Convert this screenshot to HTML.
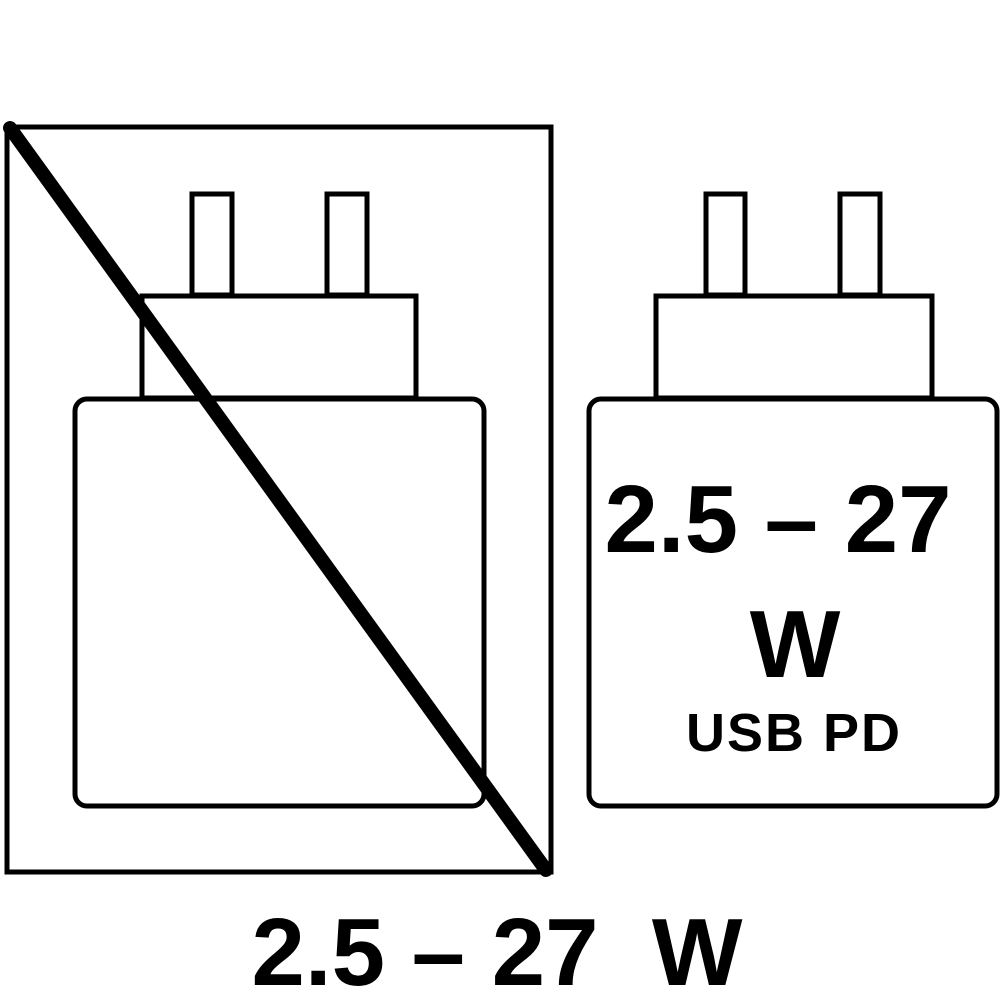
<!DOCTYPE html>
<html><head><meta charset="utf-8"><style>
html,body{margin:0;padding:0;background:#fff;}
svg{display:block;}
text{font-family:"Liberation Sans",sans-serif;font-weight:bold;fill:#000;}
</style></head><body>
<svg width="1000" height="1000" viewBox="0 0 1000 1000" xmlns="http://www.w3.org/2000/svg">
<g fill="none" stroke="#000" stroke-width="5">
<rect x="7" y="127" width="544" height="745"/>
<rect x="192" y="194" width="40" height="101"/>
<rect x="327" y="194" width="40" height="101"/>
<rect x="142" y="296" width="274" height="102"/>
<rect x="75" y="399" width="409" height="407" rx="12"/>
<rect x="706" y="194" width="39" height="101"/>
<rect x="840" y="194" width="40" height="101"/>
<rect x="656" y="296" width="276" height="102"/>
<rect x="589" y="399" width="408" height="407" rx="12"/>
</g>
<line x1="10" y1="128" x2="546" y2="870" stroke="#000" stroke-width="14" stroke-linecap="round"/>
<text x="778" y="552" font-size="96" text-anchor="middle">2.5 – 27</text>
<text x="795" y="677" font-size="96" text-anchor="middle">W</text>
<text x="794" y="751" font-size="54" text-anchor="middle" letter-spacing="2">USB PD</text>
<text x="497" y="985" font-size="96" text-anchor="middle" xml:space="preserve">2.5 – 27  W</text>
</svg>
</body></html>
